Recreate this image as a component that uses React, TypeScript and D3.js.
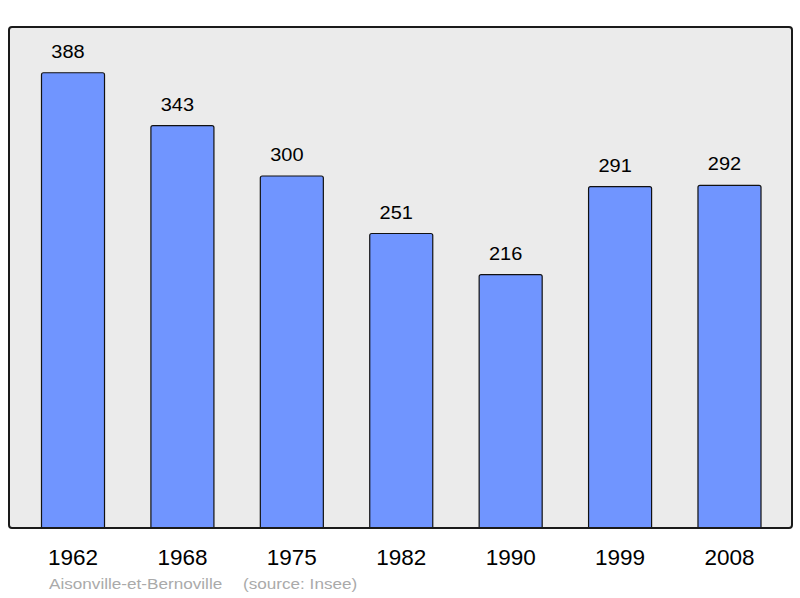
import React from "react";
import * as d3 from "d3";

const years = ["1962", "1968", "1975", "1982", "1990", "1999", "2008"];
const population = [388, 343, 300, 251, 216, 291, 292];
const townName = "Aisonville-et-Bernoville";
const sourceNote = "(source: Insee)";

const width = 800;
const height = 598;
const font = "'Liberation Sans', Arial, sans-serif";

// rounded-top bar path
function barPath(x: number, y: number, w: number, h: number, r: number) {
  return `M${x},${y + h}V${y + r}Q${x},${y} ${x + r},${y}H${x + w - r}Q${x + w},${y} ${x + w},${y + r}V${y + h}Z`;
}

export default function App() {
  const xScale = d3
    .scaleBand<string>()
    .domain(years)
    .range([18.3, 784.2])
    .paddingInner(0.424)
    .paddingOuter(0.212);

  const yScale = d3.scaleLinear().domain([0, 427]).range([528, 27]);

  return (
    <svg width={width} height={height} style={{ display: "block", position: "absolute", left: 0, top: 0 }}>
      <rect x={0} y={0} width={width} height={height} fill="#ffffff" />
      <rect x={9} y={27} width={783} height={501} rx={3} fill="#ebebeb" />
      {years.map((yr, i) => {
        const x = xScale(yr)!;
        const cx = x + xScale.bandwidth() / 2;
        const y = yScale(population[i]);
        const h = yScale(0) - y;
        return (
          <g key={yr}>
            <path
              d={barPath(x, y, xScale.bandwidth(), h, 2)}
              fill="#7095ff"
              stroke="#111"
              strokeWidth={1.2}
            />
            <text
              transform={`translate(${cx - 5},${y - 15}) scale(1.08,1)`}
              textAnchor="middle"
              fontFamily={font}
              fontSize={18.5}
              fill="#000"
            >
              {population[i]}
            </text>
            <text
              x={cx}
              y={565}
              textAnchor="middle"
              fontFamily={font}
              fontSize={22.5}
              fill="#000"
            >
              {yr}
            </text>
          </g>
        );
      })}
      <rect x={9} y={27} width={783} height={501} rx={3} fill="none" stroke="#1a1a1a" strokeWidth={2} />
      <text transform="translate(49,589) scale(1.12,1)" fontFamily={font} fontSize={15.3} fill="#aaaaaa">
        {townName}
      </text>
      <text transform="translate(243,589) scale(1.12,1)" fontFamily={font} fontSize={15.3} fill="#aaaaaa">
        {sourceNote}
      </text>
    </svg>
  );
}
